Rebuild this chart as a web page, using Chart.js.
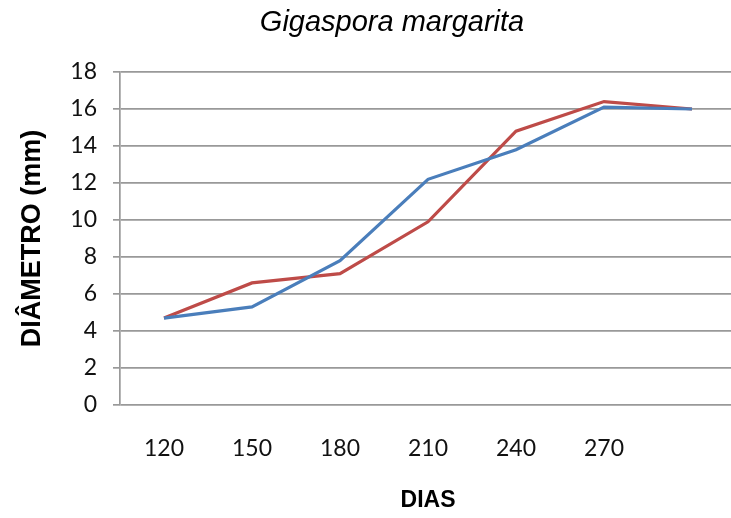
<!DOCTYPE html>
<html>
<head>
<meta charset="utf-8">
<script src="https://cdn.jsdelivr.net/npm/chart.js@4/dist/chart.umd.min.js"></script>
<style>
    html, body { margin: 0; padding: 0; background: #fff; overflow: hidden; }
    #wrap { position: relative; width: 736px; height: 518px; }
</style>
</head>
<body>
<div id="wrap"><canvas id="grafico"></canvas></div>
<script>
// Dados do gráfico
const dias = ['120', '150', '180', '210', '240', '270', ''];
const serieAzul = [4.7, 5.3, 7.8, 12.2, 13.8, 16.1, 16.0];
const serieVermelha = [4.7, 6.6, 7.1, 9.9, 14.8, 16.4, 16.0];
const ticksY = [0, 2, 4, 6, 8, 10, 12, 14, 16, 18];

// Título desenhado à mão (posição igual ao original)
const tituloPlugin = {
    id: 'tituloPlugin',
    afterDraw(chart) {
        const ctx = chart.ctx;
        ctx.save();
        ctx.font = 'italic 29px "Liberation Sans", Arial, sans-serif';
        ctx.fillStyle = '#000';
        ctx.textAlign = 'center';
        ctx.textBaseline = 'middle';
        ctx.fillText('Gigaspora margarita', 392, 23);
        ctx.restore();
    }
};

new Chart(document.getElementById('grafico'), {
    type: 'line',
    data: {
        labels: dias,
        datasets: [
            {
                label: 'Série 1',
                data: serieAzul,
                borderColor: '#4A7EBB',
                borderWidth: 3.2,
                pointRadius: 0,
                tension: 0
            },
            {
                label: 'Série 2',
                data: serieVermelha,
                borderColor: '#BE4B48',
                borderWidth: 3.2,
                pointRadius: 0,
                tension: 0
            }
        ]
    },
    options: {
        responsive: true,
        maintainAspectRatio: false,
        animation: false,
        layout: {
            padding: { top: 72, right: 0, bottom: 0, left: 0 }
        },
        plugins: {
            legend: { display: false },
            title: { display: false },
            tooltip: { enabled: false }
        },
        scales: {
            x: {
                offset: true,
                grid: { display: false, drawTicks: false },
                border: { display: false },
                ticks: {
                    color: '#111',
                    padding: 30,
                    maxRotation: 0,
                    autoSkip: false,
                    font: { family: 'Lato', size: 23 }
                },
                title: {
                    display: true,
                    text: 'DIAS',
                    color: '#000',
                    padding: { top: 0, bottom: 4 },
                    font: { family: '"Liberation Sans", Arial', size: 23, weight: 'bold' }
                },
                afterFit(scale) { scale.height = 113; }
            },
            y: {
                min: 0,
                max: 18,
                afterBuildTicks(scale) {
                    scale.ticks = ticksY.map(v => ({ value: v }));
                },
                grid: {
                    color: '#999',
                    lineWidth: 1.7,
                    tickLength: 7
                },
                border: { color: '#999', width: 1.7 },
                ticks: {
                    color: '#111',
                    padding: 16,
                    font: { family: 'Lato', size: 23 }
                },
                title: {
                    display: true,
                    text: 'DIÂMETRO (mm)',
                    color: '#000',
                    padding: { top: 16, bottom: 0 },
                    font: { family: '"Liberation Sans", Arial', size: 27, weight: 'bold' }
                },
                afterFit(scale) { scale.width = 120; }
            }
        }
    },
    plugins: [tituloPlugin]
});
</script>
</body>
</html>
